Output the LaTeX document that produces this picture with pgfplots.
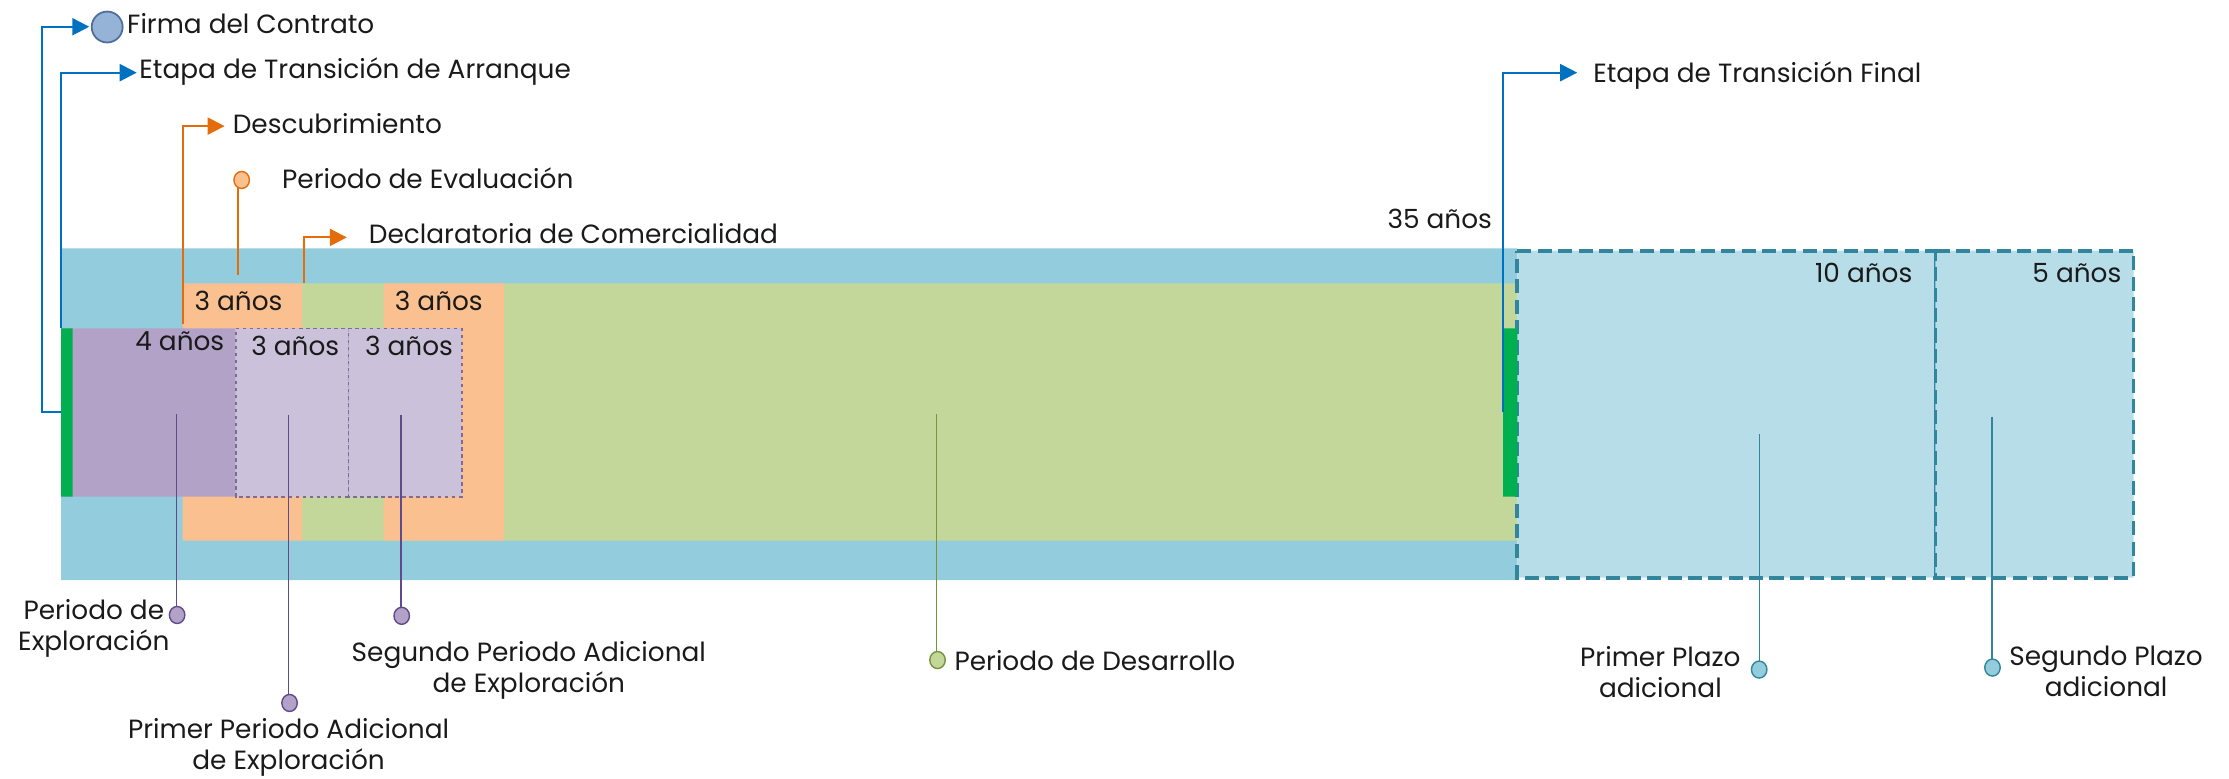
\documentclass[border=0pt]{standalone}
\usepackage{pgfplots}
\pgfplotsset{compat=1.18}
\usepackage{fontspec}
\setmainfont{Poppins}
\usetikzlibrary{arrows.meta}

\definecolor{band}{HTML}{93CDDD}
\definecolor{dev}{HTML}{C4D79B}
\definecolor{eva}{HTML}{FAC090}
\definecolor{expl}{HTML}{B3A2C7}
\definecolor{adic}{HTML}{CCC1DA}
\definecolor{adicline}{HTML}{7F6A9E}
\definecolor{plazo}{HTML}{B7DEE8}
\definecolor{plazoline}{HTML}{31859C}
\definecolor{strip}{HTML}{00B050}
\definecolor{arrowblue}{HTML}{0070C0}
\definecolor{arroworange}{HTML}{E46C0A}
\definecolor{firma}{HTML}{95B3D7}
\definecolor{firmaline}{HTML}{4F6D9A}
\definecolor{purpline}{HTML}{5F4B8B}
\definecolor{devline}{HTML}{77933C}
\definecolor{txt}{HTML}{1A1A1A}

\begin{document}
\begin{tikzpicture}[font=\fontsize{7.5}{8.8}\selectfont, every node/.style={text=txt, inner sep=0pt}]
\begin{axis}[
    scale only axis, width=22.29cm, height=7.78cm,
    xmin=-1.4704, xmax=52.149, ymin=0, ymax=547.3, y dir=reverse,
    hide axis, clip=false,
    arr/.style={-{Triangle[length=1.7mm, width=1.7mm]}, line width=0.6pt},
    box/.style={draw=none, mark=none},
    leader/.style={line width=0.45pt, mark=none},
    dot/.style={only marks, mark=*, mark size=2.2pt, mark options={yscale=1.1}},
]
% time bands (x in years, y in picture units from the top)
\addplot[box, fill=band] coordinates {(0,174.7) (35.03,174.7) (35.03,408) (0,408) (0,174.7)};
\addplot[box, fill=dev] coordinates {(5.80,199.3) (35.03,199.3) (35.03,380.3) (5.80,380.3) (5.80,199.3)};
\addplot[box, fill=eva] coordinates {(2.924,199.3) (5.80,199.3) (5.80,380.3) (2.924,380.3) (2.924,199.3)};
\addplot[box, fill=eva] coordinates {(7.762,199.3) (10.656,199.3) (10.656,380.3) (7.762,380.3) (7.762,199.3)};
\addplot[box, fill=expl] coordinates {(0,231) (4.20,231) (4.20,349.4) (0,349.4) (0,231)};
\addplot[fill=adic, draw=adicline, line width=0.5pt, dash pattern=on 1pt off 1pt, mark=none] coordinates {(4.20,231) (6.911,231) (6.911,349.4) (4.20,349.4) (4.20,231)};
\addplot[fill=adic, draw=adicline, line width=0.5pt, dash pattern=on 1pt off 1pt, mark=none] coordinates {(6.911,231) (9.636,231) (9.636,349.4) (6.911,349.4) (6.911,231)};
\addplot[fill=plazo, draw=plazoline, line width=1.1pt, dash pattern=on 4pt off 1.8pt, mark=none] coordinates {(35.03,176.3) (45.087,176.3) (45.087,406.3) (35.03,406.3) (35.03,176.3)};
\addplot[fill=plazo, draw=plazoline, line width=1.1pt, dash pattern=on 4pt off 1.8pt, mark=none] coordinates {(45.087,176.3) (49.851,176.3) (49.851,406.3) (45.087,406.3) (45.087,176.3)};
\addplot[box, fill=strip] coordinates {(0,231) (0.274,231) (0.274,349.4) (0,349.4) (0,231)};
\addplot[box, fill=strip] coordinates {(34.689,231) (35.03,231) (35.03,349.4) (34.689,349.4) (34.689,231)};

% connectors with arrows
\addplot[arr, arrowblue] coordinates {(0,289.6) (-0.465,289.6) (-0.465,18.8) (0.677,18.8)};
\addplot[arr, arrowblue] coordinates {(0,231) (0,51.1) (1.819,51.1)};
\addplot[arr, arroworange] coordinates {(2.924,228) (2.924,88.7) (3.933,88.7)};
\addplot[arr, arroworange] coordinates {(5.834,199.3) (5.834,167) (6.873,167)};
\addplot[arr, arrowblue] coordinates {(34.689,290) (34.689,51.1) (36.470,51.1)};
\addplot[leader, arroworange] coordinates {(4.261,193.5) (4.261,130)};

% leader lines
\addplot[leader, purpline] coordinates {(2.777,291.5) (2.777,428)};
\addplot[leader, purpline] coordinates {(5.465,292) (5.465,490)};
\addplot[leader, purpline] coordinates {(8.176,292) (8.176,428)};
\addplot[leader, devline] coordinates {(21.058,291.5) (21.058,459)};
\addplot[leader, plazoline] coordinates {(40.857,305.3) (40.857,466)};
\addplot[leader, plazoline] coordinates {(46.448,293.1) (46.448,464)};

% markers
\addplot[only marks, mark=*, mark size=4.4pt, mark options={fill=firma, draw=firmaline, line width=0.5pt}] coordinates {(1.108,19)};
\addplot[dot, mark options={fill=eva, draw=arroworange, line width=0.4pt, yscale=1.1}] coordinates {(4.343,126.6)};
\addplot[dot, mark options={fill=expl, draw=purpline, line width=0.4pt, yscale=1.1}] coordinates {(2.790,432.6) (5.495,494.5) (8.193,433.2)};
\addplot[dot, mark options={fill=dev, draw=devline, line width=0.4pt, yscale=1.1}] coordinates {(21.082,464.3)};
\addplot[dot, mark options={fill=band, draw=plazoline, line width=0.4pt, yscale=1.1}] coordinates {(40.847,471) (46.459,469.6)};

% labels
\node[anchor=west] at (axis cs:1.573,16.4) {Firma del Contrato};
\node[anchor=west] at (axis cs:1.867,50) {Etapa de Transición de Arranque};
\node[anchor=west] at (axis cs:4.114,86.8) {Descubrimiento};
\node[anchor=west] at (axis cs:5.300,125.5) {Periodo de Evaluación};
\node[anchor=west] at (axis cs:7.387,164) {Declaratoria de Comercialidad};
\node[anchor=west] at (axis cs:36.839,52.8) {Etapa de Transición Final};
\node at (axis cs:33.163,154.3) {35 años};
\node at (axis cs:43.361,192.3) {10 años};
\node at (axis cs:48.490,192.3) {5 años};
\node at (axis cs:2.855,240) {4 años};
\node at (axis cs:5.632,243) {3 años};
\node at (axis cs:8.368,243) {3 años};
\node at (axis cs:4.268,211.5) {3 años};
\node at (axis cs:9.086,211.5) {3 años};
\node[align=center] at (axis cs:0.787,442) {Periodo de\\Exploración};
\node[align=center] at (axis cs:11.251,471.5) {Segundo Periodo Adicional\\de Exploración};
\node[align=center] at (axis cs:5.471,525.8) {Primer Periodo Adicional\\de Exploración};
\node[anchor=west] at (axis cs:21.475,464.8) {Periodo de Desarrollo};
\node[align=center] at (axis cs:38.471,473) {Primer Plazo\\adicional};
\node[align=center] at (axis cs:49.192,472) {Segundo Plazo\\adicional};
\end{axis}
\pgfresetboundingbox
\path[use as bounding box] (current axis.south west) rectangle (current axis.north east);
\end{tikzpicture}
\end{document}
